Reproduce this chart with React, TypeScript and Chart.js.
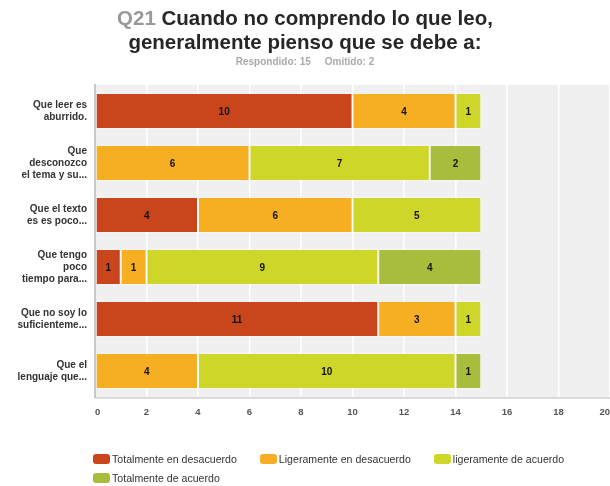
import React, { useEffect, useRef } from "react";
import { Chart, registerables } from "chart.js";

Chart.register(...registerables);

const categories: string[][] = [
  ["Que leer es", "aburrido."],
  ["Que", "desconozco", "el tema y su..."],
  ["Que el texto", "es es poco..."],
  ["Que tengo", "poco", "tiempo para..."],
  ["Que no soy lo", "suficienteme..."],
  ["Que el", "lenguaje que..."],
];
const seriesNames = [
  "Totalmente en desacuerdo",
  "Ligeramente en desacuerdo",
  "ligeramente de acuerdo",
  "Totalmente de acuerdo",
];
const totalDesacuerdo = [10, 0, 4, 1, 11, 0];
const ligDesacuerdo = [4, 6, 6, 1, 3, 4];
const ligAcuerdo = [1, 7, 5, 9, 1, 10];
const totalAcuerdo = [0, 2, 0, 4, 0, 1];
const colors = ["#C9461D", "#F6AE22", "#CFD62A", "#A9BD3C"];
const titlePrefix = "Q21";
const titleLines = ["Cuando no comprendo lo que leo,", "generalmente pienso que se debe a:"];
const subtitleParts = ["Respondido: 15", "Omitido: 2"];
const xMax = 20;
const xStep = 2;

const FONT = "'Liberation Sans', Arial, sans-serif";

export default function App() {
  const ref = useRef<HTMLCanvasElement | null>(null);
  useEffect(() => {
    if (!ref.current) return;
    const bgPlugin = {
      id: "bg",
      beforeDraw(chart: any) {
        const { ctx, chartArea } = chart;
        ctx.save();
        ctx.fillStyle = "#f0f0f0";
        ctx.fillRect(chartArea.left, chartArea.top, chart.width - chartArea.left, chartArea.bottom - chartArea.top);
        ctx.fillStyle = "#dcdcdc";
        ctx.fillRect(chartArea.left, chartArea.bottom, chart.width - chartArea.left, 2);
        ctx.restore();
      },
    };
    const labelPlugin = {
      id: "vals",
      afterDatasetsDraw(chart: any) {
        const { ctx } = chart;
        ctx.save();
        ctx.font = `bold 10px ${FONT}`;
        ctx.fillStyle = "#111";
        ctx.textAlign = "center";
        ctx.textBaseline = "middle";
        chart.data.datasets.forEach((ds: any, i: number) => {
          const meta = chart.getDatasetMeta(i);
          meta.data.forEach((bar: any, j: number) => {
            const v = ds.data[j];
            if (!v) return;
            const x = (bar.x + bar.base) / 2;
            ctx.fillText(String(v), x, bar.y + 1);
          });
        });
        ctx.restore();
      },
    };
    const data = [totalDesacuerdo, ligDesacuerdo, ligAcuerdo, totalAcuerdo];
    const chart = new Chart(ref.current, {
      type: "bar",
      data: {
        labels: categories,
        datasets: data.map((d, i) => ({
          label: seriesNames[i],
          data: d,
          backgroundColor: colors[i],
          borderColor: "rgba(255,255,255,0.35)",
          borderWidth: 1,
          borderSkipped: false,
          categoryPercentage: 1,
          barPercentage: 0.69,
        })),
      },
      options: {
        indexAxis: "y",
        responsive: false,
        animation: false,
        layout: { padding: { top: 85, right: 0, bottom: 64, left: 0 } },
        plugins: {
          legend: { display: false },
          title: { display: false },
          tooltip: { enabled: false },
        },
        scales: {
          x: {
            stacked: true,
            min: 0,
            max: xMax,
            ticks: {
              stepSize: xStep,
              color: "#555",
              font: { family: FONT, size: 9.5, weight: "bold" },
              padding: 10,
              align: "inner",
            },
            grid: { color: "#ffffff", lineWidth: 1.5, drawTicks: false },
            border: { display: false },
            afterFit: (s: any) => {
              s.height = 25;
              s.paddingRight = 0;
              s.paddingLeft = 0;
            },
          },
          y: {
            stacked: true,
            ticks: {
              color: "#333",
              font: { family: FONT, size: 10, weight: "bold", lineHeight: 1.2 },
              padding: 8,
              autoSkip: false,
            },
            grid: { display: false, drawTicks: false },
            border: { display: true, color: "#c8c8c8", width: 2 },
            afterFit: (s: any) => {
              s.width = 95;
            },
          },
        },
      } as any,
      plugins: [bgPlugin, labelPlugin],
    });
    return () => chart.destroy();
  }, []);

  return (
    <div style={{ position: "absolute", left: 0, top: 0, width: 610, height: 486, overflow: "hidden", background: "#fff", fontFamily: FONT }}>
      <canvas ref={ref} width={610} height={486} style={{ position: "absolute", left: 0, top: 0 }} />
      <div style={{ position: "absolute", left: 0, top: 6, width: 610, textAlign: "center", fontWeight: "bold", fontSize: 20.5, lineHeight: "24px", color: "#262626" }}>
        <div>
          <span style={{ color: "#999" }}>{titlePrefix}</span> {titleLines[0]}
        </div>
        <div>{titleLines[1]}</div>
      </div>
      <div style={{ position: "absolute", left: 0, top: 56, width: 610, textAlign: "center", fontWeight: "bold", fontSize: 10, lineHeight: "12px", color: "#aaa" }}>
        <span>{subtitleParts[0]}</span>
        <span style={{ marginLeft: 14 }}>{subtitleParts[1]}</span>
      </div>
      <div style={{ position: "absolute", left: 93, top: 452, width: 500, display: "flex", flexWrap: "wrap", columnGap: 23, rowGap: 5 }}>
        {seriesNames.map((n, i) => (
          <div key={n} style={{ display: "flex", alignItems: "center", height: 14, fontSize: 10.6, color: "#333" }}>
            <span style={{ display: "inline-block", width: 17, height: 10, borderRadius: 3, background: colors[i], marginRight: 2 }} />
            <span>{n}</span>
          </div>
        ))}
      </div>
    </div>
  );
}
